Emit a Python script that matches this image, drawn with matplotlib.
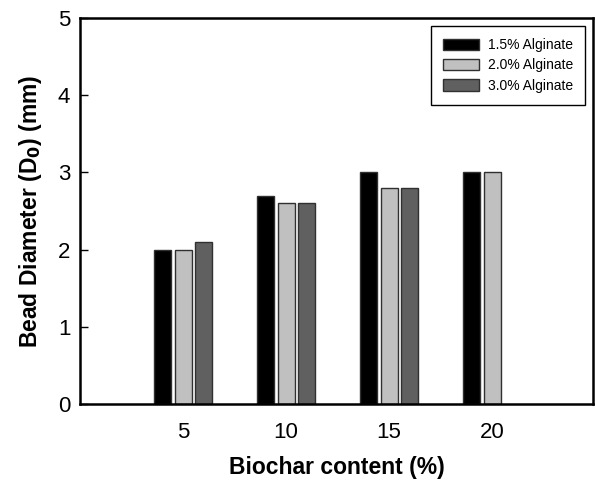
import matplotlib
matplotlib.use("Agg")
import matplotlib.pyplot as plt
import numpy as np

plt.rcParams['font.family'] = ['Liberation Sans', 'DejaVu Sans']

categories = ['5', '10', '15', '20']
series_names = ['1.5% Alginate', '2.0% Alginate', '3.0% Alginate']
alg_15 = [2.0, 2.7, 3.0, 3.0]
alg_20 = [2.0, 2.6, 2.8, 3.0]
alg_30 = [2.1, 2.6, 2.8, np.nan]
colors = ['#000000', '#c0c0c0', '#606060']

fig = plt.figure(figsize=(5.95, 4.83), dpi=100)
ax = fig.add_axes([0.1345, 0.1636, 0.8621, 0.7991])

x = np.arange(len(categories))
w = 0.165
off = 0.197
for i, (vals, c, name) in enumerate(zip([alg_15, alg_20, alg_30], colors, series_names)):
    ax.bar(x + (i - 1) * off, vals, width=w, color=c, edgecolor='#303030',
           linewidth=1.0, label=name)

ax.set_xlim(-1.0, 3.98)
ax.set_ylim(0, 5)
ax.set_xticks(x)
ax.set_xticklabels(categories)
ax.set_yticks([0, 1, 2, 3, 4, 5])
ax.tick_params(axis='y', direction='in', length=6, width=1, labelsize=16, pad=7)
ax.tick_params(axis='x', length=0, labelsize=16, pad=13)
for s in ax.spines.values():
    s.set_linewidth(1.8)

ax.set_xlabel('Biochar content (%)', fontsize=16.5, fontweight='bold', labelpad=9)
ax.set_ylabel('Bead Diameter (D$_\\mathbf{0}$) (mm)', fontsize=16.5, fontweight='bold', labelpad=10)

leg = ax.legend(loc='upper right', bbox_to_anchor=(0.985, 0.98), fontsize=10,
                fancybox=False, edgecolor='black', framealpha=1,
                handlelength=2.6, handleheight=0.9, handletextpad=0.6,
                labelspacing=0.45, borderpad=0.9, borderaxespad=0)
leg.get_frame().set_linewidth(1.0)

fig.savefig('out.png', dpi=100)
